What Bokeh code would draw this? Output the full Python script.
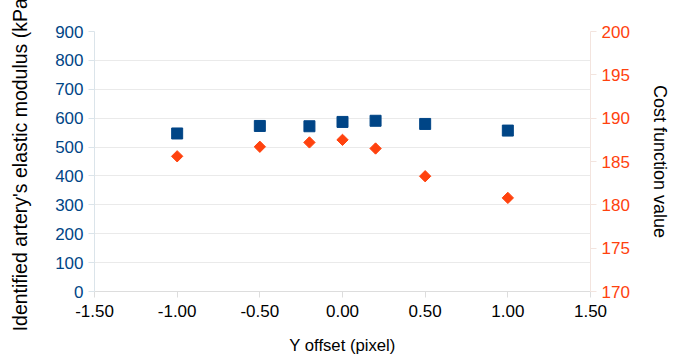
import numpy as np
from bokeh.plotting import figure
from bokeh.models import Range1d, LinearAxis, FixedTicker
from bokeh.embed import file_html
from bokeh.resources import INLINE

# ---- data ----
y_offset = [-1.0, -0.5, -0.2, 0.0, 0.2, 0.5, 1.0]
modulus_kpa = [547, 573, 572, 587, 591, 580, 557]
cost_value = [185.6, 186.7, 187.2, 187.5, 186.5, 183.3, 180.8]

x_ticks = [-1.5, -1.0, -0.5, 0.0, 0.5, 1.0, 1.5]
x_tick_labels = ["-1.50", "-1.00", "-0.50", "0.00", "0.50", "1.00", "1.50"]
left_ticks = [0, 100, 200, 300, 400, 500, 600, 700, 800, 900]
right_ticks = [170, 175, 180, 185, 190, 195, 200]

BLUE = "#004586"
ORANGE = "#ff420e"
FONT = "Liberation Sans"

p = figure(width=673, height=360, output_backend="svg", toolbar_location=None,
           x_range=Range1d(-1.5, 1.5), y_range=Range1d(0, 900),
           min_border_left=94, min_border_right=83, min_border_top=31, min_border_bottom=69)
p.outline_line_color = None
p.extra_y_ranges = {"cost": Range1d(170, 200)}

p.scatter(y_offset, modulus_kpa, marker="square", size=11, color=BLUE)
p.scatter(y_offset, cost_value, marker="square", angle=np.pi / 4, size=8,
          color=ORANGE, y_range_name="cost")

# x axis
xa = p.xaxis[0]
xa.ticker = FixedTicker(ticks=x_ticks)
xa.major_label_overrides = {t: l for t, l in zip(x_ticks, x_tick_labels)}
xa.axis_label = "Y offset (pixel)"

# left axis
ya = p.yaxis[0]
ya.ticker = FixedTicker(ticks=left_ticks)
ya.axis_label = "Identified artery's elastic modulus (kPa)"
ya.major_label_text_color = BLUE
ya.axis_line_color = "#dbe4ea"
ya.major_tick_line_color = "#dbe4ea"

# right axis
ra = LinearAxis(y_range_name="cost", ticker=FixedTicker(ticks=right_ticks),
                axis_label="Cost function value")
ra.major_label_text_color = ORANGE
ra.axis_line_color = "#f3e4de"
ra.major_tick_line_color = "#f3e4de"
p.add_layout(ra, "right")

for ax in [xa, ya, ra]:
    ax.minor_tick_line_color = None
    ax.major_tick_in = 0
    ax.major_tick_out = 6
    ax.major_label_text_font = FONT
    ax.major_label_text_font_size = "17px"
    ax.axis_label_text_font = FONT
    ax.axis_label_text_font_size = "18px"
    ax.axis_label_text_font_style = "normal"
    ax.axis_label_text_color = "#000000"
    ax.major_label_standoff = 5
ya.axis_label_text_font_size = "19.5px"
xa.axis_label_text_font_size = "16.7px"
xa.axis_line_color = "#dddddd"
xa.major_tick_line_color = "#dddddd"
xa.major_label_text_color = "#000000"
xa.major_label_standoff = 7
xa.axis_label_standoff = 16
ya.axis_label_standoff = 21
ra.axis_label_standoff = 17

p.xgrid.grid_line_color = None
p.ygrid.grid_line_color = "#eaeaea"
p.ygrid.ticker = FixedTicker(ticks=left_ticks)

open("out.html", "w").write(file_html(p, INLINE))
